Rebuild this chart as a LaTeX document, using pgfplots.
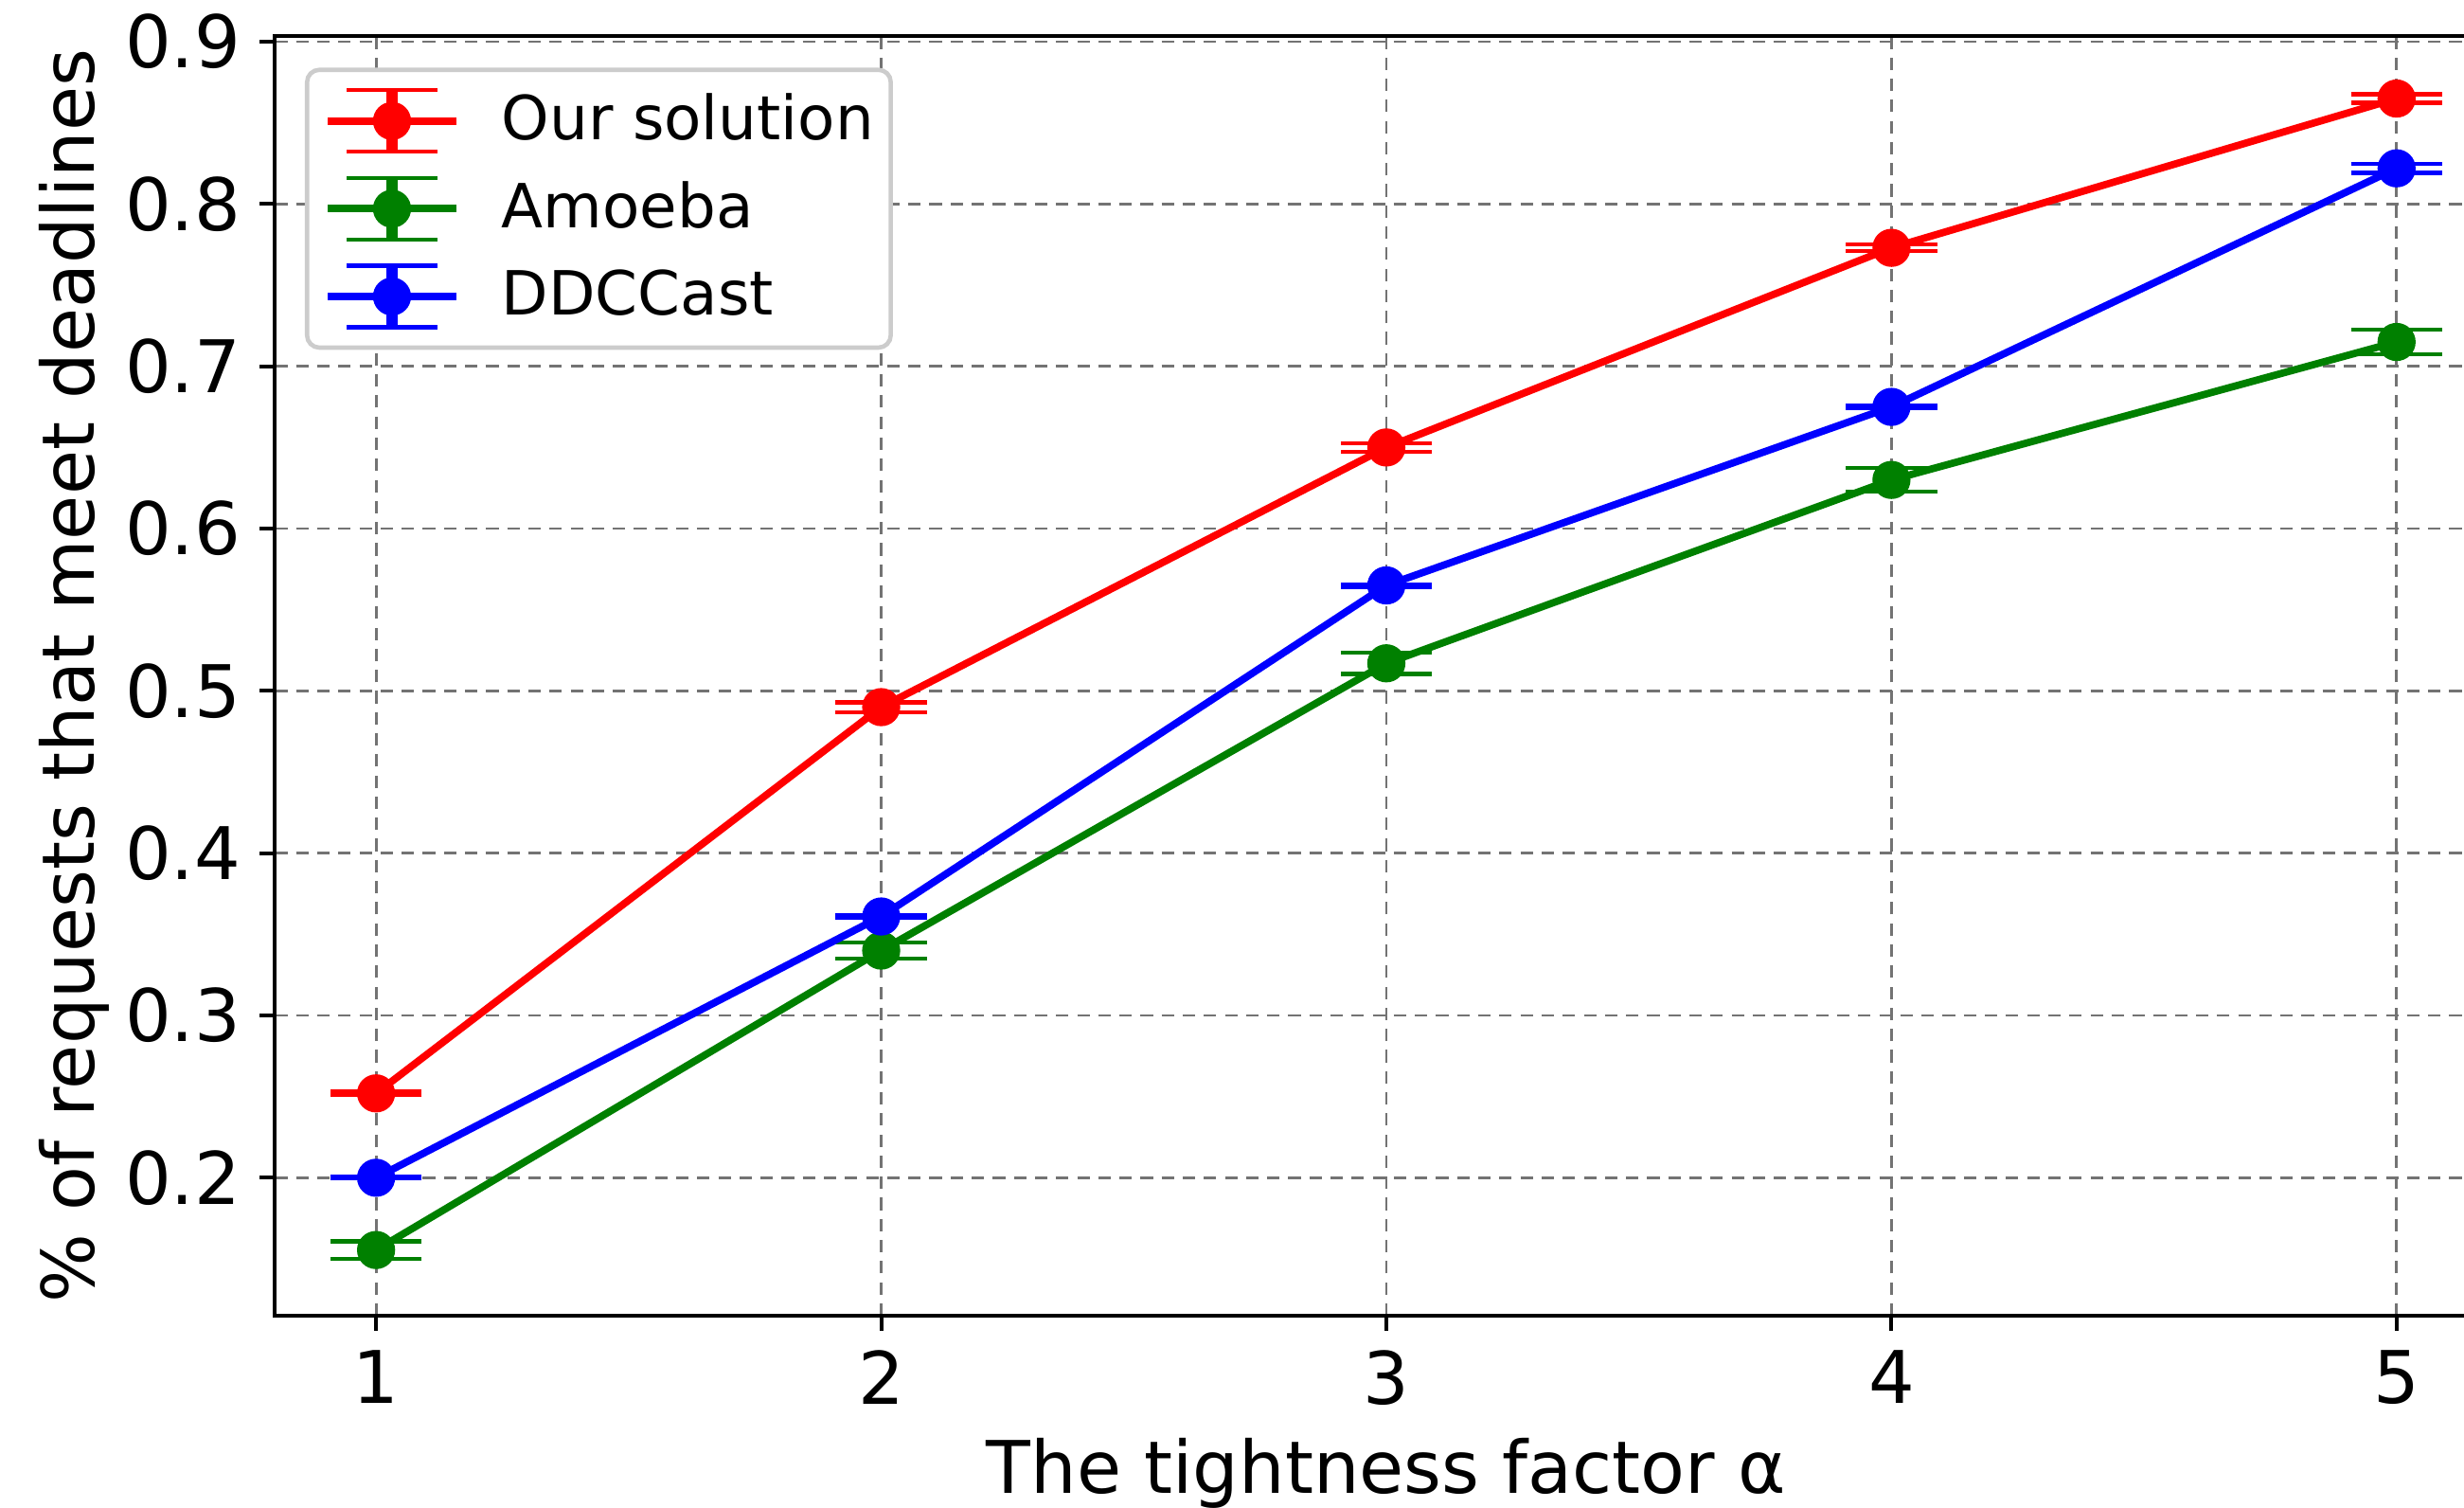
\documentclass[border=0pt]{standalone}
\usepackage{pgfplots}
\pgfplotsset{compat=1.18}
\usepackage{fontspec}
\setmainfont{DejaVu Sans}
\definecolor{mgreen}{rgb}{0,0.5,0}
\newcommand{\tickfont}{\fontsize{13.4}{16}\selectfont}
\newcommand{\legfont}{\fontsize{11.25}{13}\selectfont}

\pgfplotsset{
  ebleg/.style={
    legend image code/.code={
      \draw[line width=1.35pt] (0cm,0cm) -- (0.837cm,0cm);
      \draw[line width=2.1pt] (0.418cm,-0.2cm) -- (0.418cm,0.2cm);
      \draw[line width=0.75pt] (0.122cm,0.2cm) -- (0.714cm,0.2cm);
      \draw[line width=0.75pt] (0.122cm,-0.2cm) -- (0.714cm,-0.2cm);
      \fill (0.418cm,0cm) circle (0.1cm);
    }
  }
}

\begin{document}
\begin{tikzpicture}
\begin{axis}[
  at={(1.786cm,-8.541cm)}, anchor=south west,
  scale only axis, width=14.432cm, height=8.307cm,
  xmin=0.8, xmax=5.2, ymin=0.115, ymax=0.9035,
  xtick={1,2,3,4,5},
  ytick={0.2,0.3,0.4,0.5,0.6,0.7,0.8,0.9},
  yticklabel style={/pgf/number format/fixed, /pgf/number format/precision=1},
  /pgf/number format/assume math mode=true,
  tick label style={font=\tickfont},
  label style={font=\tickfont},
  tick align=outside, tick pos=left,
  major tick length=0.1cm,
  every tick/.style={black, line width=0.7pt},
  axis line style={line width=0.7pt},
  grid=major,
  major grid style={dash pattern=on 2.3pt off 1.6pt, black!55, line width=0.5pt},
  xlabel={The tightness factor α},
  ylabel={\% of requests that meet deadlines},
  xlabel style={at={(axis description cs:0.5,-0.1388)}, anchor=base},
  ylabel style={at={(axis description cs:-0.0813,0.5)}, anchor=base},
  legend cell align=left,
  legend style={at={(axis description cs:0.01343,0.9753)}, anchor=north west,
    draw=black!20, line width=0.8pt, rounded corners=0.08cm, fill=white,
    font=\legfont, row sep=0.096cm, column sep=0.27cm,
    inner xsep=0.11cm, inner ysep=0.095cm,
    nodes={inner sep=0pt}},
  error bars/y dir=both, error bars/y explicit,
  error bars/error mark options={rotate=90, mark size=0.296cm, line width=0.75pt},
  error bars/error bar style={line width=2.1pt},
]
\addplot[color=red, line width=1.35pt, mark=*, mark size=0.1cm, ebleg]
  coordinates {(1,0.252) +- (0,0.001) (2,0.490) +- (0,0.003) (3,0.650) +- (0,0.0025) (4,0.773) +- (0,0.002) (5,0.865) +- (0,0.0026)};
\addlegendentry{Our solution}
\addplot[color=mgreen, line width=1.35pt, mark=*, mark size=0.1cm, ebleg]
  coordinates {(1,0.1555) +- (0,0.0053) (2,0.340) +- (0,0.005) (3,0.517) +- (0,0.0066) (4,0.630) +- (0,0.0074) (5,0.715) +- (0,0.0075)};
\addlegendentry{Amoeba}
\addplot[color=blue, line width=1.35pt, mark=*, mark size=0.1cm, ebleg]
  coordinates {(1,0.200) +- (0,0.0005) (2,0.361) +- (0,0.001) (3,0.565) +- (0,0.0008) (4,0.675) +- (0,0.001) (5,0.822) +- (0,0.0028)};
\addlegendentry{DDCCast}
\end{axis}
\pgfresetboundingbox
\path (0,0) rectangle (16,-9.786);
\end{tikzpicture}
\end{document}
